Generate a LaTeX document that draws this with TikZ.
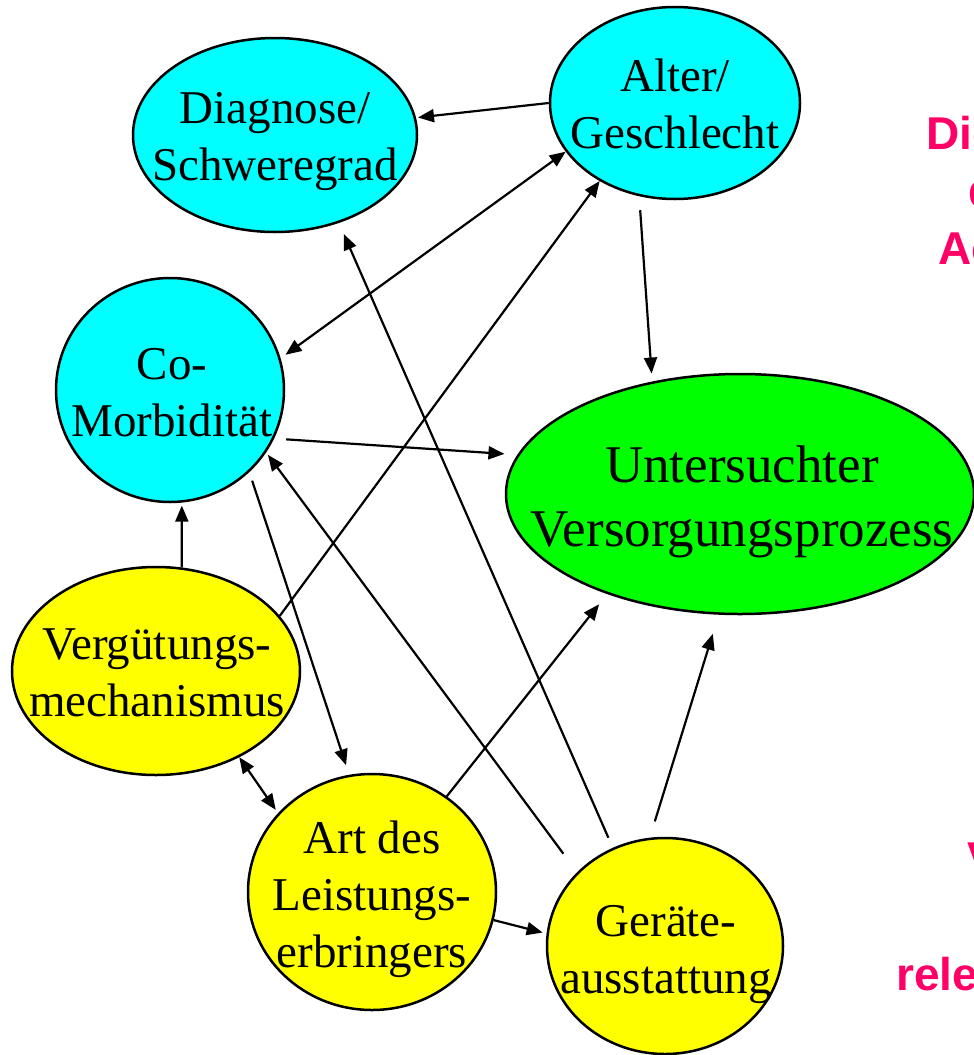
\documentclass[tikz,border=0pt]{standalone}
\usepackage{fontspec}
\setmainfont{Liberation Serif}
\setsansfont{Liberation Sans}
\usetikzlibrary{shapes.geometric, arrows.meta}

\definecolor{cyanfill}{RGB}{0,255,255}
\definecolor{greenfill}{RGB}{0,255,0}
\definecolor{yellowfill}{RGB}{255,255,0}
\definecolor{redtext}{RGB}{255,0,102}

\tikzset{
  factor/.style={draw, ellipse, line width=2.5pt, inner sep=0pt},
  lbl/.style={align=center, inner sep=0pt, font=\fontsize{47}{57}\selectfont},
  arr/.style={line width=2.2pt, -{Triangle[length=16pt,width=13pt]}},
  darr/.style={line width=2.2pt, {Triangle[length=16pt,width=13pt]}-{Triangle[length=16pt,width=13pt]}},
  side/.style={anchor=base west, inner sep=0pt, text=redtext, font=\sffamily\bfseries\fontsize{46}{55}\selectfont}
}

\begin{document}
\begin{tikzpicture}[x=1pt, y=-1pt]
  \useasboundingbox (0,0) rectangle (974,1055);
  \clip (0,0) rectangle (974,1055);
  \fill[white] (0,0) rectangle (974,1055);

  % factors
  \node[factor, fill=cyanfill, minimum width=284pt, minimum height=194pt] (diag) at (275,135) {};
  \node[factor, fill=cyanfill, minimum width=250pt, minimum height=192pt] (alter) at (675,103) {};
  \node[factor, fill=cyanfill, minimum width=228pt, minimum height=224pt] (comorb) at (170,390) {};
  \node[factor, fill=greenfill, minimum width=468pt, minimum height=240pt] (unters) at (740,494) {};
  \node[factor, fill=yellowfill, minimum width=288pt, minimum height=208pt] (verg) at (156,671) {};
  \node[factor, fill=yellowfill, minimum width=248pt, minimum height=236pt] (art) at (372,892) {};
  \node[factor, fill=yellowfill, minimum width=236pt, minimum height=216pt] (geraete) at (665,946) {};

  % labels
  \node[lbl] (diagtxt) at (275,142) {Diagnose/\\Schweregrad};
  \node[lbl] (altertxt) at (675,104) {Alter/\\Geschlecht};
  \node[lbl] (comorbtxt) at (172,393) {Co-\\Morbidität};
  \node[lbl, font=\fontsize{53}{64}\selectfont] (unterstxt) at (742,502) {Untersuchter\\Versorgungsprozess};
  \node[lbl] (vergtxt) at (157,673) {Vergütungs-\\mechanismus};
  \node[lbl] (arttxt) at (372,899) {Art des\\Leistungs-\\erbringers};
  \node[lbl] (geraetetxt) at (666,954) {Geräte-\\ausstattung};

  % influences
  \draw[arr, shorten >=2pt] (alter.180) -- (diag.7);
  \draw[darr, shorten >=6pt] (alter.204) -- (comorb.16);
  \draw[arr] (verg.24) -- (alter.226);
  \draw[arr, shorten <=14pt, shorten >=8pt] (alter.249) -- (unters.128);
  \draw[arr, shorten <=12pt, shorten >=13pt] (comorb.-25) -- (unters.170);
  \draw[arr, shorten >=3pt] (verg.76) -- (comorb.-84);
  \draw[arr, shorten <=9pt, shorten >=10pt] (comorb.-46) -- (art.101);
  \draw[arr, shorten <=23pt, shorten >=3pt] (geraete.140) -- (comorb.-33);
  \draw[arr, shorten <=11pt, shorten >=12pt] (geraete.118) -- (diag.-54);
  \draw[darr, shorten >=4pt] (verg.-46) -- (art.140);
  \draw[arr, shorten >=13pt] (art.52) -- (unters.217);
  \draw[arr, shorten >=4pt] (art.-13) -- (geraete.174);
  \draw[arr, shorten <=17pt, shorten >=20pt] (geraete.98) -- (unters.260);

  % cut-off side text
  \node[side] (sideA) at (926,149) {Die};
  \node[side] (sideB) at (968,206) {d};
  \node[side] (sideC) at (938,264) {Ac};
  \node[side] (sideD) at (967,874) {V};
  \node[side] (sideE) at (896,990) {rele};
\end{tikzpicture}
\end{document}
